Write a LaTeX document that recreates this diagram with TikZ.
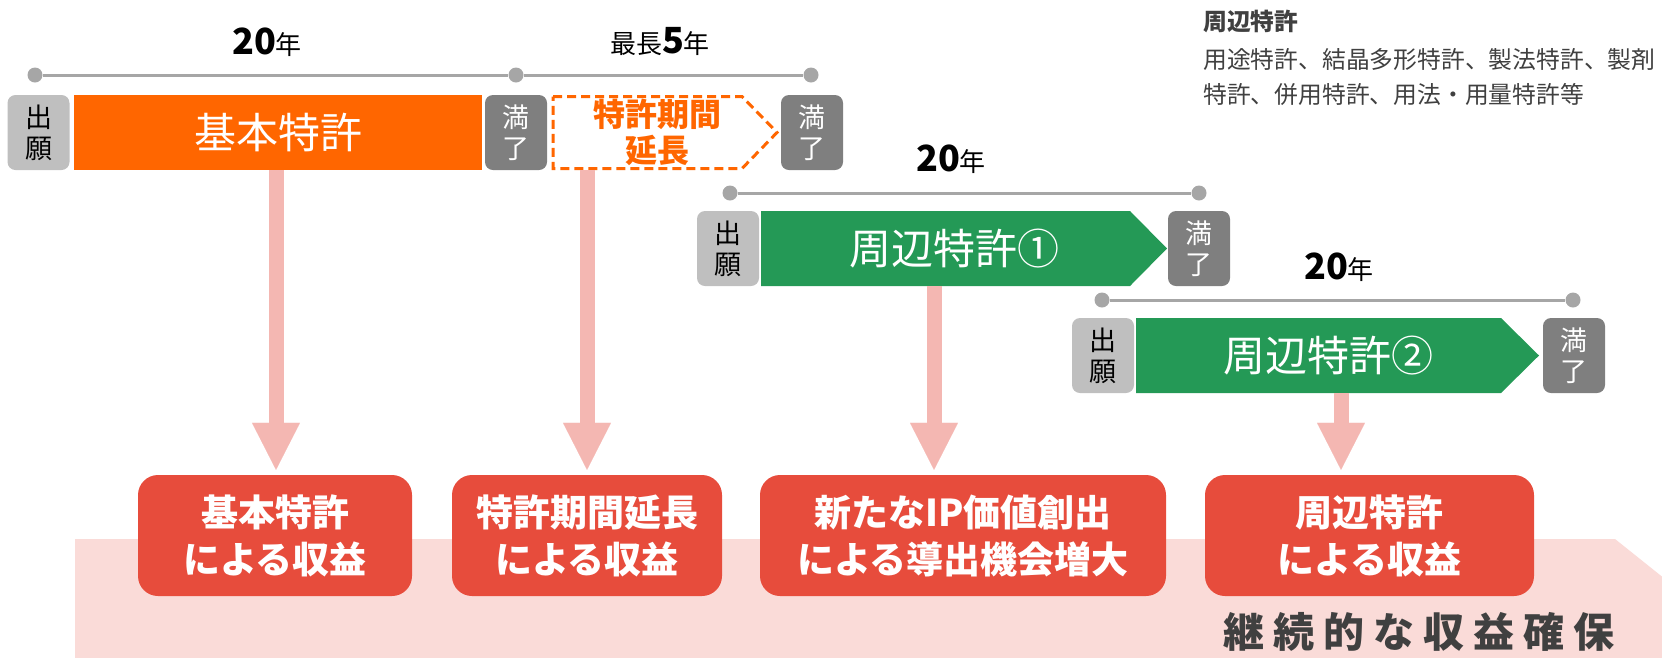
\documentclass[tikz,border=0pt]{standalone}
\usepackage{fontspec}
\setmainfont{Noto Sans CJK JP}
\usetikzlibrary{arrows.meta}
\definecolor{orangeb}{RGB}{255,102,0}
\definecolor{greenb}{RGB}{36,153,86}
\definecolor{lgrey}{RGB}{191,191,191}
\definecolor{dgrey}{RGB}{127,127,127}
\definecolor{tline}{RGB}{166,166,166}
\definecolor{pinka}{RGB}{244,183,178}
\definecolor{redb}{RGB}{231,76,60}
\definecolor{bandc}{RGB}{250,219,216}
\definecolor{darktxt}{RGB}{64,64,64}
\begin{document}
\begin{tikzpicture}[x=1pt,y=-1pt,
  appbox/.style={fill=lgrey, rounded corners=8pt, minimum width=62pt, minimum height=75pt, inner sep=0pt, align=center, font=\fontsize{27}{31}\selectfont, text=black},
  endbox/.style={appbox, fill=dgrey, text=white},
  bartxt/.style={inner sep=0pt, text=white, font=\fontsize{42}{50}\selectfont},
  tldot/.style={circle, fill=tline, minimum size=15pt, inner sep=0pt},
  tl/.style={draw=tline, line width=3pt},
  yrlbl/.style={inner sep=0pt, text=black, font=\fontsize{26}{30}\selectfont},
  pinkarr/.style={draw=pinka, line width=15pt, -{Triangle[length=47pt,width=48pt,line width=0.1pt,fill=pinka]}, shorten >=5pt},
  redbox/.style={fill=redb, rounded corners=20pt, minimum height=121pt, inner sep=0pt, align=center, text=white, font=\bfseries\fontsize{37}{47}\selectfont},
  notetxt/.style={anchor=west, inner sep=0pt, text=darktxt, font=\fontsize{23.8}{24}\selectfont}
]
\useasboundingbox (0,0) rectangle (1662,657);
% background band
\begin{scope}
\clip (0,0) rectangle (1662,657);
\fill[bandc] (75,539) -- (1615,539) -- (1700,607) -- (1700,700) -- (75,700) -- cycle;
\end{scope}

% ---- row 1 ----
\node[yrlbl] (y1) at (267,42) {{\bfseries\fontsize{36}{36}\selectfont 20}年};
\node[yrlbl] (y2) at (660,42) {最長{\bfseries\fontsize{36}{36}\selectfont 5}年};
\node[tldot] (t1a) at (35,75) {};
\node[tldot] (t1b) at (516,75) {};
\node[tldot] (t1c) at (811,75) {};
\draw[tl] (t1a) -- (t1b) -- (t1c);

\node[appbox] (app1) at (38.5,132.5) {出\\願};
\node[fill=orangeb, minimum width=408pt, minimum height=75pt, inner sep=0pt] (base) at (278,132.5) {};
\node[bartxt] (baset) at (base.center) {基本特許};
\node[endbox] (end1) at (516,132.5) {満\\了};
\draw[draw=orangeb, fill=white, line width=3pt, dash pattern=on 9pt off 5pt] (553,96.5) -- (742,96.5) -- (777,132.5) -- (742,168.5) -- (553,168.5) -- cycle;
\node[inner sep=0pt, align=center, text=orangeb, font=\bfseries\fontsize{32}{36}\selectfont] (ext) at (657,132.5) {特許期間\\延長};
\node[endbox] (end2) at (812,132.5) {満\\了};

% ---- row 2 ----
\node[yrlbl] (y3) at (951,159) {{\bfseries\fontsize{36}{36}\selectfont 20}年};
\node[tldot] (t2a) at (730,193) {};
\node[tldot] (t2b) at (1199,193) {};
\draw[tl] (t2a) -- (t2b);
\node[appbox] (app2) at (728,248.5) {出\\願};
\fill[greenb] (761,211) -- (1130,211) -- (1167,248.5) -- (1130,286) -- (761,286) -- cycle;
\node[bartxt] (p1) at (954,248.5) {周辺特許①};
\node[endbox] (end3) at (1199,248.5) {満\\了};

% ---- row 3 ----
\node[yrlbl] (y4) at (1339,267) {{\bfseries\fontsize{36}{36}\selectfont 20}年};
\node[tldot] (t3a) at (1102,300) {};
\node[tldot] (t3b) at (1573,300) {};
\draw[tl] (t3a) -- (t3b);
\node[appbox] (app3) at (1103,355.5) {出\\願};
\fill[greenb] (1136,318) -- (1501,318) -- (1539,355.5) -- (1501,393) -- (1136,393) -- cycle;
\node[bartxt] (p2) at (1328,355.5) {周辺特許②};
\node[endbox] (end4) at (1574,355.5) {満\\了};

% ---- result boxes ----
\node[redbox, minimum width=274pt] (r1) at (275,535.5) {基本特許\\による収益};
\node[redbox, minimum width=270pt] (r2) at (587,535.5) {特許期間延長\\による収益};
\node[redbox, minimum width=406pt] (r3) at (963,535.5) {新たなIP価値創出\\による導出機会増大};
\node[redbox, minimum width=329pt] (r4) at (1369.5,535.5) {周辺特許\\による収益};

% ---- arrows ----
\coordinate (s1) at (276,170);
\coordinate (s2) at (587,170);
\coordinate (s3) at (934,286);
\coordinate (s4) at (1341,393);
\draw[pinkarr] (s1) -- (s1 |- r1.north);
\draw[pinkarr] (s2) -- (s2 |- r2.north);
\draw[pinkarr] (s3) -- (s3 |- r3.north);
\draw[pinkarr] (s4) -- (s4 |- r4.north);

% ---- band label ----
\node[anchor=east, inner sep=0pt, text=darktxt, font=\bfseries\fontsize{41}{43}\selectfont] (bt) at (1615,632) {継\hspace{9pt}続\hspace{9pt}的\hspace{9pt}な\hspace{9pt}収\hspace{9pt}益\hspace{9pt}確\hspace{9pt}保};

% ---- note ----
\node[notetxt, font=\bfseries\fontsize{23.8}{24}\selectfont] (n1) at (1203,21) {周辺特許};
\node[notetxt] (n2) at (1203,59) {用途特許、結晶多形特許、製法特許、製剤};
\node[notetxt] (n3) at (1203,94) {特許、併用特許、用法・用量特許等};
\end{tikzpicture}
\end{document}
